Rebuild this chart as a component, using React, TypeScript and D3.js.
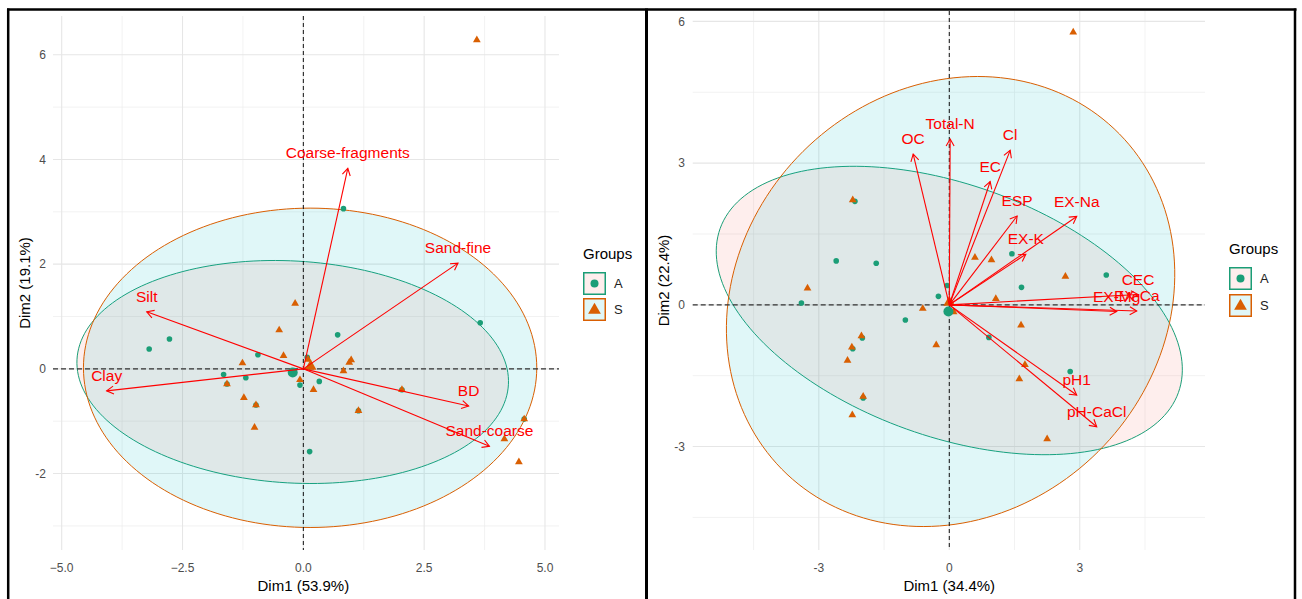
import React from "react";
import * as d3 from "d3";

const W = 1302;
const H = 599;
const FONT = "'Liberation Sans', Arial, Helvetica, sans-serif";

const GREEN = "#1B9E77";
const ORANGE = "#D95F02";
const FILL_A = "#F8766D";
const FILL_S = "#00BFC4";
const ARROW = "#FF0000";

// ---------- Physical properties PCA (left) ----------
const physVars = ["Coarse-fragments", "Sand-fine", "Silt", "Clay", "BD", "Sand-coarse"];
const physVarX = [0.92, 3.2, -3.24, -4.07, 3.42, 3.85];
const physVarY = [3.83, 2.02, 1.09, -0.42, -0.71, -1.48];

const physAx = [-3.19, -2.77, -0.94, -1.65, -1.58, -1.19, -0.98, 0.13, -0.07, 0.33, 0.71, 1.14, 2.04, 3.66, 4.57, 0.83, 0.08];
const physAy = [0.38, 0.57, 0.27, -0.11, -0.29, -0.17, -0.69, -1.58, -0.31, -0.24, 0.65, -0.8, -0.4, 0.88, -0.96, 3.06, 0.22];

const physSx = [-0.17, -0.5, -0.41, -1.26, -1.58, -1.23, -0.98, -1.01, -0.07, 0.21, 0.1, 0.99, 0.95, 0.83, 2.04, 1.14, 4.57, 4.16, 4.46, 3.59];
const physSy = [1.25, 0.74, 0.25, 0.11, -0.29, -0.55, -0.69, -1.12, -0.21, -0.4, 0.18, 0.17, 0.12, -0.04, -0.4, -0.8, -0.96, -1.34, -1.78, 6.28];

const physMeanA = [-0.22, -0.07];
const physMeanS = [0.15, 0.05];

// confidence ellipses: centre, semi-axes, rotation (degrees, data space)
const physEllA = { cx: -0.22, cy: -0.06, a: 4.47, b: 2.12, angle: -3 };
const physEllS = { cx: 0.14, cy: 0.02, a: 4.69, b: 3.05, angle: 0 };

const physTicksX = [-5, -2.5, 0, 2.5, 5];
const physTicksY = [-2, 0, 2, 4, 6];
const physMinorX = [-3.75, -1.25, 1.25, 3.75];
const physMinorY = [-3, -1, 1, 3, 5];

// ---------- Chemical properties PCA (right) ----------
const chemVars = ["OC", "Total-N", "Cl", "EC", "ESP", "EX-Na", "EX-K", "CEC", "EX-Mg", "EX-Ca", "pH1", "pH-CaCl"];
const chemVarX = [-0.83, 0.02, 1.4, 0.94, 1.56, 2.93, 1.76, 4.34, 3.85, 4.31, 2.93, 3.39];
const chemVarY = [3.19, 3.51, 3.27, 2.61, 1.88, 1.87, 1.07, 0.22, -0.14, -0.13, -1.91, -2.58];

const chemAx = [-2.17, -2.6, -1.68, -0.05, -0.25, -3.4, -1.01, -2.0, -2.22, -1.98, 1.44, 3.61, 1.66, 0.91, 2.78];
const chemAy = [2.19, 0.93, 0.88, 0.41, 0.18, 0.04, -0.32, -0.7, -0.93, -1.97, 1.08, 0.63, 0.37, -0.69, -1.41];

const chemSx = [-2.22, -3.26, -0.61, -2.02, -2.24, -2.34, -0.3, -1.98, -2.23, 0.59, 0.97, 2.67, 1.07, 1.65, 1.74, 1.61, 2.25, 2.85, 0.1];
const chemSy = [2.22, 0.35, -0.08, -0.66, -0.9, -1.18, -0.85, -1.94, -2.33, 1.0, 0.95, 0.6, 0.13, -0.43, -1.27, -1.57, -2.84, 5.77, -0.15];

const chemMeanA = [-0.02, -0.14];
const chemMeanS = [0.0, 0.05];

const chemEllA = { cx: 0.0, cy: -0.12, a: 5.55, b: 2.69, angle: -17.3 };
const chemEllS = { cx: 0.03, cy: 0.07, a: 5.31, b: 4.59, angle: 28.5 };

const chemTicksX = [-3, 0, 3];
const chemTicksY = [-3, 0, 3, 6];
const chemMinorX = [-4.5, -1.5, 1.5, 4.5];
const chemMinorY = [-4.5, -1.5, 1.5, 4.5];

const groups = ["A", "S"];

type Ell = { cx: number; cy: number; a: number; b: number; angle: number };

interface PanelSpec {
  left: number;
  right: number;
  top: number;
  bottom: number;
  xDomain: [number, number];
  yDomain: [number, number];
  xTicks: number[];
  yTicks: number[];
  xMinor: number[];
  yMinor: number[];
  fmtX: (v: number) => string;
  fmtY: (v: number) => string;
  xTitle: string;
  yTitle: string;
  yTitleX: number;
  yTickRight: number;
  vars: string[];
  varX: number[];
  varY: number[];
  ax: number[];
  ay: number[];
  sx: number[];
  sy: number[];
  meanA: number[];
  meanS: number[];
  ellA: Ell;
  ellS: Ell;
  legendX: number;
  legendY: number;
  keyStep: number;
}

const fmt1 = d3.format(".1f");
const fmt0 = (v: number) => String(v);

const panels: PanelSpec[] = [
  {
    left: 53,
    right: 559,
    top: 16,
    bottom: 550,
    xDomain: [-5.18, 5.29],
    yDomain: [-3.46, 6.74],
    xTicks: physTicksX,
    yTicks: physTicksY,
    xMinor: physMinorX,
    yMinor: physMinorY,
    fmtX: fmt1,
    fmtY: fmt0,
    xTitle: "Dim1 (53.9%)",
    yTitle: "Dim2 (19.1%)",
    yTitleX: 25,
    yTickRight: 46,
    vars: physVars,
    varX: physVarX,
    varY: physVarY,
    ax: physAx,
    ay: physAy,
    sx: physSx,
    sy: physSy,
    meanA: physMeanA,
    meanS: physMeanS,
    ellA: physEllA,
    ellS: physEllS,
    legendX: 583,
    legendY: 259,
    keyStep: 26,
  },
  {
    left: 692.7,
    right: 1205,
    top: 11,
    bottom: 550,
    xDomain: [-5.9, 5.88],
    yDomain: [-5.19, 6.22],
    xTicks: chemTicksX,
    yTicks: chemTicksY,
    xMinor: chemMinorX,
    yMinor: chemMinorY,
    fmtX: fmt0,
    fmtY: fmt0,
    xTitle: "Dim1 (34.4%)",
    yTitle: "Dim2 (22.4%)",
    yTitleX: 664,
    yTickRight: 685,
    vars: chemVars,
    varX: chemVarX,
    varY: chemVarY,
    ax: chemAx,
    ay: chemAy,
    sx: chemSx,
    sy: chemSy,
    meanA: chemMeanA,
    meanS: chemMeanS,
    ellA: chemEllA,
    ellS: chemEllS,
    legendX: 1229,
    legendY: 254,
    keyStep: 27,
  },
];

const triSmall = d3.symbol(d3.symbolTriangle, 26)() as string;
const triBig = d3.symbol(d3.symbolTriangle, 60)() as string;
const triKey = d3.symbol(d3.symbolTriangle, 70)() as string;

function Panel({ p }: { p: PanelSpec }) {
  const x = d3.scaleLinear().domain(p.xDomain).range([p.left, p.right]);
  const y = d3.scaleLinear().domain(p.yDomain).range([p.bottom, p.top]);

  const ellPath = (e: Ell) => {
    const th = (e.angle * Math.PI) / 180;
    const pts = d3.range(0, 360, 2).map((deg) => {
      const t = (deg * Math.PI) / 180;
      const dx = e.a * Math.cos(t);
      const dy = e.b * Math.sin(t);
      return [
        x(e.cx + dx * Math.cos(th) - dy * Math.sin(th)),
        y(e.cy + dx * Math.sin(th) + dy * Math.cos(th)),
      ] as [number, number];
    });
    return (d3.line()(pts) as string) + "Z";
  };

  const x0 = x(0);
  const y0 = y(0);
  const midY = (p.top + p.bottom) / 2;
  const midX = x(0);

  return (
    <g>
      {/* grid */}
      {p.xMinor.map((v) => (
        <line key={"mx" + v} x1={x(v)} x2={x(v)} y1={p.top} y2={p.bottom} stroke="#EDEDED" strokeWidth={0.7} />
      ))}
      {p.yMinor.map((v) => (
        <line key={"my" + v} x1={p.left} x2={p.right} y1={y(v)} y2={y(v)} stroke="#EDEDED" strokeWidth={0.7} />
      ))}
      {p.xTicks.map((v) => (
        <line key={"gx" + v} x1={x(v)} x2={x(v)} y1={p.top} y2={p.bottom} stroke="#E6E6E6" strokeWidth={1.1} />
      ))}
      {p.yTicks.map((v) => (
        <line key={"gy" + v} x1={p.left} x2={p.right} y1={y(v)} y2={y(v)} stroke="#E6E6E6" strokeWidth={1.1} />
      ))}

      {/* group ellipses */}
      <path d={ellPath(p.ellA)} fill={FILL_A} fillOpacity={0.12} stroke={GREEN} strokeWidth={1} />
      <path d={ellPath(p.ellS)} fill={FILL_S} fillOpacity={0.12} stroke={ORANGE} strokeWidth={1} />

      {/* reference axes */}
      <line x1={p.left} x2={p.right} y1={y0} y2={y0} stroke="#333" strokeWidth={1.2} strokeDasharray="5,3" />
      <line x1={x0} x2={x0} y1={p.top} y2={p.bottom} stroke="#111" strokeWidth={1} strokeDasharray="4,3" />

      {/* individuals */}
      {p.ax.map((v, i) => (
        <circle key={"a" + i} cx={x(v)} cy={y(p.ay[i])} r={2.8} fill={GREEN} />
      ))}
      {p.sx.map((v, i) => (
        <path key={"s" + i} d={triSmall} transform={`translate(${x(v)},${y(p.sy[i])})`} fill={ORANGE} />
      ))}
      <circle cx={x(p.meanA[0])} cy={y(p.meanA[1])} r={5} fill={GREEN} />
      <path d={triBig} transform={`translate(${x(p.meanS[0])},${y(p.meanS[1])})`} fill={ORANGE} />

      {/* variable arrows */}
      {p.vars.map((name, i) => {
        const hx = x(p.varX[i]);
        const hy = y(p.varY[i]);
        const ang = Math.atan2(hy - y0, hx - x0);
        const L = 8;
        const s = Math.PI / 6;
        const a1x = hx - L * Math.cos(ang - s);
        const a1y = hy - L * Math.sin(ang - s);
        const a2x = hx - L * Math.cos(ang + s);
        const a2y = hy - L * Math.sin(ang + s);
        return (
          <g key={"v" + name}>
            <line x1={x0} y1={y0} x2={hx} y2={hy} stroke={ARROW} strokeWidth={1.1} />
            <path d={`M${a1x},${a1y}L${hx},${hy}L${a2x},${a2y}`} fill="none" stroke={ARROW} strokeWidth={1.1} />
          </g>
        );
      })}
      {p.vars.map((name, i) => (
        <text
          key={"t" + name}
          x={x(p.varX[i])}
          y={y(p.varY[i]) - 15.5}
          dy="0.36em"
          textAnchor="middle"
          fontSize={15.5}
          fill={ARROW}
          fontFamily={FONT}
        >
          {name}
        </text>
      ))}

      {/* axis tick labels */}
      {p.xTicks.map((v) => (
        <text key={"tx" + v} x={x(v)} y={p.bottom + 22} textAnchor="middle" fontSize={12} fill="#4D4D4D" fontFamily={FONT}>
          {p.fmtX(v)}
        </text>
      ))}
      {p.yTicks.map((v) => (
        <text key={"ty" + v} x={p.yTickRight} y={y(v)} dy="0.35em" textAnchor="end" fontSize={12} fill="#4D4D4D" fontFamily={FONT}>
          {p.fmtY(v)}
        </text>
      ))}

      {/* axis titles */}
      <text x={midX} y={591} textAnchor="middle" fontSize={15} fill="#000" fontFamily={FONT}>
        {p.xTitle}
      </text>
      <text
        transform={`translate(${p.yTitleX},${midY}) rotate(-90)`}
        dy="0.35em"
        textAnchor="middle"
        fontSize={15}
        fill="#000"
        fontFamily={FONT}
      >
        {p.yTitle}
      </text>

      {/* legend */}
      <text x={p.legendX} y={p.legendY} fontSize={15} fill="#000" fontFamily={FONT}>
        Groups
      </text>
      {groups.map((g, i) => {
        const ky = p.legendY + 13 + i * p.keyStep;
        const kx = p.legendX;
        const isA = g === "A";
        return (
          <g key={"lg" + g}>
            <rect x={kx} y={ky} width={23} height={23} fill="#fff" />
            <rect
              x={kx + 0.75}
              y={ky + 0.75}
              width={21.5}
              height={21.5}
              fill={isA ? FILL_A : FILL_S}
              fillOpacity={0.12}
              stroke={isA ? GREEN : ORANGE}
              strokeWidth={1.5}
            />
            {isA ? (
              <circle cx={kx + 11.5} cy={ky + 11.5} r={4} fill={GREEN} />
            ) : (
              <path d={triKey} transform={`translate(${kx + 11.5},${ky + 12})`} fill={ORANGE} />
            )}
            <text x={kx + 31} y={ky + 11.5} dy="0.36em" fontSize={13} fill="#222" fontFamily={FONT}>
              {g}
            </text>
          </g>
        );
      })}
    </g>
  );
}

export default function App() {
  return (
    <svg
      width={W}
      height={H}
      viewBox={`0 0 ${W} ${H}`}
      style={{ position: "absolute", left: 0, top: 0, background: "#fff" }}
    >
      <rect x={0} y={0} width={W} height={H} fill="#fff" />
      {panels.map((p, i) => (
        <Panel key={i} p={p} />
      ))}
      {/* outer frame and panel divider */}
      <line x1={7} x2={1296.5} y1={9.5} y2={9.5} stroke="#000" strokeWidth={2.5} />
      <line x1={8.2} x2={8.2} y1={8.5} y2={H} stroke="#000" strokeWidth={2.5} />
      <line x1={646.5} x2={646.5} y1={8.5} y2={H} stroke="#000" strokeWidth={3} />
      <line x1={1295} x2={1295} y1={8.5} y2={H} stroke="#000" strokeWidth={2.5} />
    </svg>
  );
}
